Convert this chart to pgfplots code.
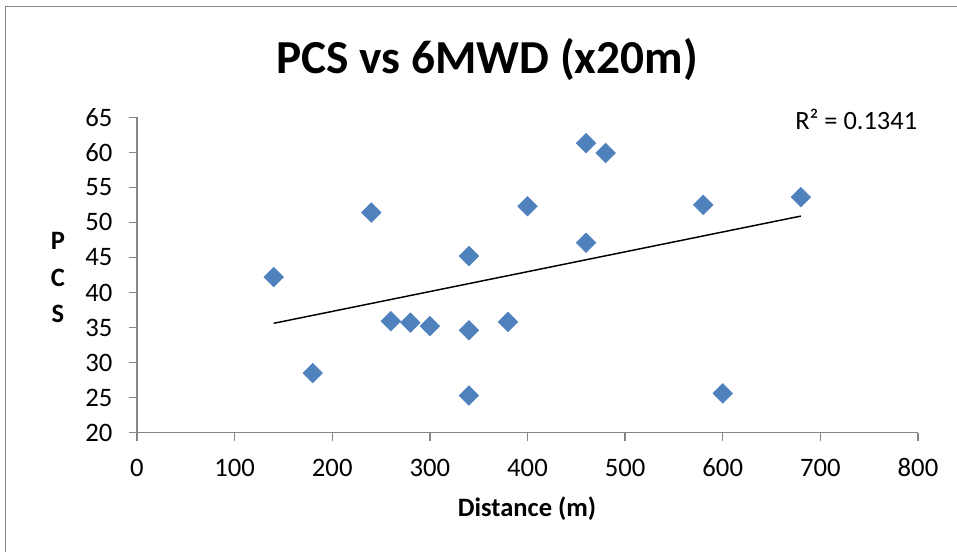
\documentclass[border=0pt]{standalone}
\usepackage{pgfplots}
\pgfplotsset{compat=1.18}
\usepackage{fontspec}
\setmainfont{Carlito}

\definecolor{markblue}{HTML}{4F81BD}
\definecolor{axisgray}{HTML}{868686}

% PCS against six-minute walk distance
\pgfplotstableread{
dist pcs
140 42.2
180 28.5
240 51.4
260 35.9
280 35.7
300 35.2
340 45.2
340 34.6
340 25.3
380 35.8
400 52.3
460 61.3
460 47.1
480 59.9
580 52.5
600 25.6
680 53.6
}\pcsdata

\begin{document}
\begin{tikzpicture}
\useasboundingbox (0,0) rectangle (717.75pt,414pt);
% chart frame
\draw[axisgray, line width=1.1pt] (4.3pt,-5pt) -- (4.3pt,409.3pt) -- (725pt,409.3pt);

\begin{axis}[
  at={(102.75pt,89.5pt)}, anchor=south west,
  scale only axis, width=585.75pt, height=236.55pt,
  xmin=0, xmax=800, ymin=20, ymax=65,
  xtick={0,100,...,800}, ytick={20,25,...,65},
  axis x line*=bottom, axis y line*=left,
  axis line style={axisgray, line width=1.1pt},
  tick style={axisgray, line width=1.1pt},
  tick align=outside, major tick length=6pt,
  ticklabel style={font=\fontsize{20}{22}\selectfont, text=black},
  xticklabel style={yshift=-10pt},
  yticklabel style={xshift=-9pt},
  /pgf/number format/assume math mode=true,
  /pgf/number format/1000 sep={},
  clip=false,
]
\addplot[only marks, mark=square*, mark size=5.2pt,
  mark options={rotate=45, fill=markblue, draw=markblue}]
  table[x=dist, y=pcs] {\pcsdata};
% linear trendline
\addplot[black, line width=1.1pt] coordinates {(140,35.6) (680,50.9)};
\end{axis}

\node[anchor=base, font=\fontsize{35.5}{40}\selectfont\bfseries] at (365.25pt,359pt) {PCS vs 6MWD (x20m)};
\node[anchor=base west, font=\fontsize{19.8}{22}\selectfont, inner sep=0pt] at (596.25pt,316.5pt) {R² = 0.1341};
\node[anchor=base, font=\fontsize{19.9}{22}\selectfont\bfseries] at (395.25pt,26.5pt) {Distance (m)};
\node[anchor=base, font=\fontsize{19.9}{22}\selectfont\bfseries] at (43.5pt,226.5pt) {P};
\node[anchor=base, font=\fontsize{19.9}{22}\selectfont\bfseries] at (43.5pt,199pt) {C};
\node[anchor=base, font=\fontsize{19.9}{22}\selectfont\bfseries] at (43.5pt,171.75pt) {S};
\end{tikzpicture}
\end{document}
